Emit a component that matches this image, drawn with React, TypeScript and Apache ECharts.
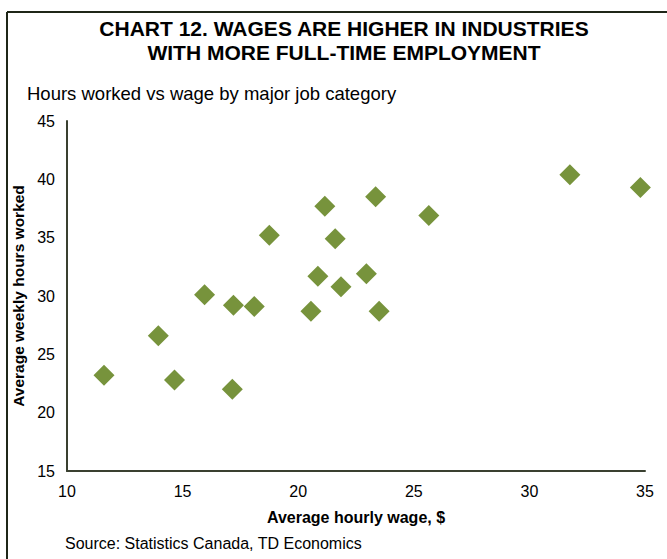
import React, { useEffect, useRef } from "react";
import * as echarts from "echarts";

const wages = [11.6, 13.95, 14.65, 15.95, 17.2, 17.15, 18.1, 18.75, 20.55, 20.85, 21.15, 21.6, 21.85, 22.95, 23.35, 23.5, 25.65, 31.75, 34.8];
const hours = [23.2, 26.6, 22.8, 30.1, 29.2, 22.0, 29.1, 35.2, 28.7, 31.7, 37.7, 34.9, 30.8, 31.9, 38.5, 28.7, 36.9, 40.4, 39.3];
const xTicks = { min: 10, max: 35, interval: 5 };
const yTicks = { min: 15, max: 45, interval: 5 };
const titleLines = ["CHART 12. WAGES ARE HIGHER IN INDUSTRIES", "WITH MORE FULL-TIME EMPLOYMENT"];
const subtitle = "Hours worked vs wage by major job category";
const xName = "Average hourly wage, $";
const yName = "Average weekly hours worked";
const source = "Source: Statistics Canada, TD Economics";

export default function App() {
  const ref = useRef<HTMLDivElement>(null);
  useEffect(() => {
    if (!ref.current) return;
    const chart = echarts.init(ref.current, undefined, { renderer: "svg" });
    const font = "'Liberation Sans', Arial, sans-serif";
    const axisColor = "#3a4030";
    chart.setOption({
      animation: false,
      backgroundColor: "#ffffff",
      textStyle: { fontFamily: font },
      grid: { left: 67, right: 22, top: 121, bottom: 88, containLabel: false },
      xAxis: {
        type: "value",
        min: xTicks.min,
        max: xTicks.max,
        interval: xTicks.interval,
        name: xName,
        nameLocation: "middle",
        nameGap: 38,
        nameTextStyle: { fontFamily: font, fontSize: 16, fontWeight: "bold", color: "#000" },
        axisLine: { show: true, lineStyle: { color: axisColor, width: 2 } },
        axisTick: { show: false },
        splitLine: { show: false },
        axisLabel: { fontFamily: font, fontSize: 16, color: "#000", margin: 12 },
      },
      yAxis: {
        type: "value",
        min: yTicks.min,
        max: yTicks.max,
        interval: yTicks.interval,
        name: yName,
        nameLocation: "middle",
        nameGap: 40,
        nameTextStyle: { fontFamily: font, fontSize: 15.5, fontWeight: "bold", color: "#000" },
        axisLine: { show: true, onZero: false, lineStyle: { color: axisColor, width: 2 } },
        axisTick: { show: false },
        splitLine: { show: false },
        axisLabel: { fontFamily: font, fontSize: 16, color: "#000", margin: 12 },
      },
      series: [
        {
          type: "scatter",
          symbol: "diamond",
          symbolSize: [21, 21],
          itemStyle: { color: "#77933c", opacity: 1 },
          data: wages.map((w, i) => [w, hours[i]]),
        },
      ],
      graphic: [
        {
          type: "line",
          shape: { x1: 7, y1: 12, x2: 667, y2: 12 },
          style: { stroke: "#1f2618", lineWidth: 2 },
        },
        {
          type: "line",
          shape: { x1: 7, y1: 12, x2: 7, y2: 559 },
          style: { stroke: "#1f2618", lineWidth: 2 },
        },
        {
          type: "text",
          x: 344,
          y: 28,
          style: {
            text: titleLines[0],
            fontFamily: font,
            fontSize: 21,
            fontWeight: "bold",
            fill: "#000",
            align: "center",
            verticalAlign: "middle",
          },
        },
        {
          type: "text",
          x: 344,
          y: 52,
          style: {
            text: titleLines[1],
            fontFamily: font,
            fontSize: 21,
            fontWeight: "bold",
            fill: "#000",
            align: "center",
            verticalAlign: "middle",
          },
        },
        {
          type: "text",
          x: 27,
          y: 93,
          style: {
            text: subtitle,
            fontFamily: font,
            fontSize: 18.5,
            fill: "#000",
            align: "left",
            verticalAlign: "middle",
          },
        },
        {
          type: "text",
          x: 65,
          y: 543,
          style: {
            text: source,
            fontFamily: font,
            fontSize: 16,
            fill: "#000",
            align: "left",
            verticalAlign: "middle",
          },
        },
      ],
    });
    return () => chart.dispose();
  }, []);
  return <div ref={ref} style={{ width: 667, height: 559, position: "absolute", left: 0, top: 0 }} />;
}
